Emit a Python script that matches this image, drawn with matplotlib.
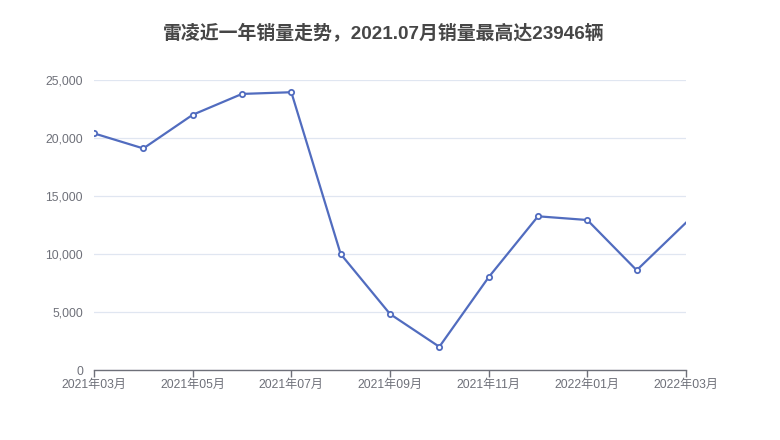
import matplotlib
matplotlib.use("Agg")
import matplotlib.pyplot as plt
from matplotlib.ticker import FuncFormatter

plt.rcParams['font.family'] = ['Liberation Sans', 'Noto Sans CJK SC', 'DejaVu Sans']

months = ["2021年03月", "2021年04月", "2021年05月", "2021年06月", "2021年07月",
          "2021年08月", "2021年09月", "2021年10月", "2021年11月", "2021年12月",
          "2022年01月", "2022年02月", "2022年03月"]
sales = [20400, 19100, 22000, 23800, 23946, 10000, 4830, 2000, 8000, 13250,
         12930, 8600, 12700]
yticks = [0, 5000, 10000, 15000, 20000, 25000]
title = "雷凌近一年销量走势，2021.07月销量最高达23946辆"

fig = plt.figure(figsize=(7.8, 4.4), dpi=100)
ax = fig.add_axes([94/780, 70/440, 592/780, 290/440])

x = list(range(len(months)))
line_color = "#516cbf"
ax.plot(x, sales, color=line_color, lw=1.6, zorder=3)
ax.plot(x[:-1], sales[:-1], ls="none", marker="o", ms=3.8, mfc="white",
        mec=line_color, mew=1.3, zorder=4)

ax.set_xlim(0, len(months) - 1)
ax.set_ylim(0, 25000)
ax.set_yticks(yticks)
ax.yaxis.set_major_formatter(FuncFormatter(lambda v, p: f"{int(v):,}"))
ax.set_xticks(x[::2])
ax.set_xticklabels(months[::2])

ax.grid(axis="y", color="#e0e6f1", lw=0.9)
ax.set_axisbelow(True)
for s in ["top", "right", "left"]:
    ax.spines[s].set_visible(False)
ax.spines["bottom"].set_color("#6e7079")
ax.spines["bottom"].set_linewidth(1)
ax.tick_params(axis="y", length=0, pad=8, labelsize=8.7, labelcolor="#6e7079")
ax.tick_params(axis="x", length=5, width=1, color="#6e7079", pad=1.5,
               labelsize=8.7, labelcolor="#6e7079")

fig.text(0.5 - 6/780, 1 - 33/440, title, ha="center", va="center", fontsize=13.6,
         fontweight="bold", color="#464646")

fig.savefig("out.png", dpi=100)
